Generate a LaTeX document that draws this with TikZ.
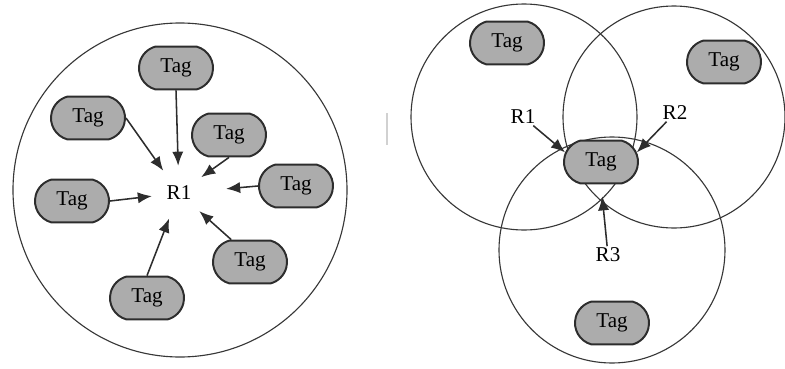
\documentclass[tikz,border=0pt]{standalone}
\usepackage{fontspec}
\setmainfont{Liberation Serif}
\usepackage{xcolor}
\usetikzlibrary{arrows.meta, shapes.misc}

\definecolor{tagfill}{RGB}{172,172,172}
\definecolor{tagline}{RGB}{45,45,45}
\definecolor{ringline}{RGB}{55,55,55}

\begin{document}
\begin{tikzpicture}[x=0.025cm, y=-0.025cm,
  font=\fontsize{15}{18}\selectfont,
  tag/.style={rounded rectangle, rounded rectangle arc length=150, draw=tagline,
    line width=1.4pt, fill=tagfill, minimum width=1.85cm, minimum height=1.07cm, inner sep=0pt},
  reader/.style={inner sep=1pt},
  ring/.style={draw=ringline, line width=0.8pt},
  arr/.style={draw=tagline, line width=1.1pt, -{Latex[length=10pt, width=8pt]}}]

\useasboundingbox (0,0) rectangle (785,369);

\draw[ring] (180,190) circle (0.025cm*167);

\node[circle, minimum size=1.35cm, inner sep=0pt] (r1) at (179,193) {R1};
\node[tag] (t1) at (176,68) {Tag};
\node[tag] (t2) at (88,118) {Tag};
\node[tag] (t3) at (229,135) {Tag};
\node[tag] (t4) at (72,201) {Tag};
\node[tag] (t5) at (296,186) {Tag};
\node[tag] (t6) at (250,262) {Tag};
\node[tag] (t7) at (147,298) {Tag};

\draw[arr] (t1.south) -- (r1);
\draw[arr] (t2.east) -- (r1);
\draw[arr] (t3.south) -- (r1);
\draw[arr] (t4.east) -- (r1);
\draw[arr, shorten >=0.5cm] (t5.west) -- (r1);
\draw[arr] (t6.130) -- (r1);
\draw[arr] (t7.north) -- (r1);

\draw[draw=black!18, line width=2pt] (387,113) -- (387,145);

\draw[ring] (524,117) circle (0.025cm*113);
\draw[ring] (674,117) circle (0.025cm*111);
\draw[ring] (612,250) circle (0.025cm*113);

\node[tag] (s1) at (507,43) {Tag};
\node[tag] (s2) at (724,62) {Tag};
\node[tag] (ctag) at (601,162) {Tag};
\node[tag] (s3) at (612,323) {Tag};

\node[reader] (r1b) at (523,117) {R1};
\node[reader] (r2b) at (675,113) {R2};
\node[reader] (r3b) at (608,255) {R3};

\draw[arr] (r1b) -- (ctag.165);
\draw[arr] (r2b) -- (ctag.15);
\draw[arr, shorten >=0.3cm] (r3b) -- (ctag.south);

\end{tikzpicture}
\end{document}
